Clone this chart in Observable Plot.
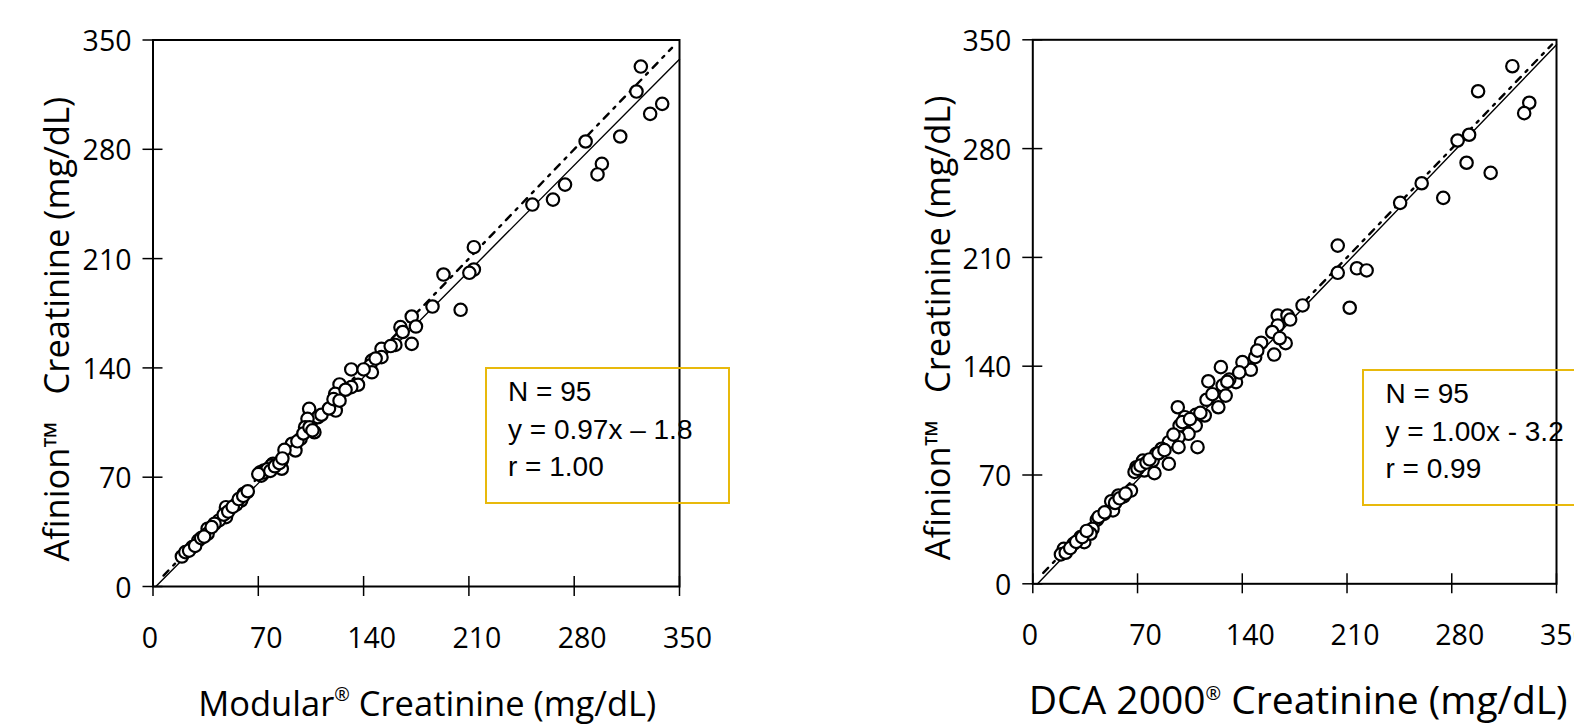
<!DOCTYPE html>
<html>
<head>
<meta charset="utf-8">
<script src="https://cdn.jsdelivr.net/npm/d3@7"></script>
<script src="https://cdn.jsdelivr.net/npm/@observablehq/plot@0.6"></script>
<style>
  html, body { margin: 0; padding: 0; background: #fff; overflow: hidden; }
  #wrap { position: relative; width: 1574px; height: 727px; overflow: hidden; background: #fff; }
  .panel { position: absolute; top: 0; }
  .box { position: absolute; box-sizing: border-box; border: 2.5px solid #E8B90C;
         font-family: "Liberation Sans", Arial, sans-serif; font-size: 28px; line-height: 37.5px;
         color: #000; padding: 4px 0 0 21.5px; white-space: pre; }
</style>
</head>
<body>
<div id="wrap"></div>
<script>
// ---------- data ----------
const xTicks = [0, 70, 140, 210, 280, 350];
const yTicks = [0, 70, 140, 210, 280, 350];

const leftXTitle = "Modular® Creatinine (mg/dL)";
const rightXTitle = "DCA 2000® Creatinine (mg/dL)";
const yTitle = "Afinion™\u00a0\u00a0\u00a0Creatinine (mg/dL)";

const leftStats = ["N = 95", "y = 0.97x \u2013 1.8", "r = 1.00"];
const rightStats = ["N = 95", "y = 1.00x - 3.2", "r = 0.99"];

// regression: slope, intercept ; identity line drawn as dash-dot
const leftFit = {slope: 0.97, intercept: -1.8, x0: 1.9, x1: 350};
const rightFit = {slope: 1.00, intercept: -3.2, x0: 3.2, x1: 350};
const leftIdentity = [[7, 7], [345, 345]];
const rightIdentity = [[7, 7], [347, 347]];

// Modular (x) vs Afinion (y)
const leftPoints = [
  [324.3,333.0],[321.4,317.0],[338.5,309.1],[330.5,302.7],[310.6,288.2],[287.6,285.0],[298.4,270.7],[295.5,263.9],
  [273.9,257.4],[265.9,247.8],[252.2,244.6],[213.3,217.3],[213.3,203.0],[210.3,200.9],[193.1,199.8],[204.5,177.2],
  [185.8,179.3],[172.0,172.9],[174.8,166.5],[164.5,166.1],[172.0,155.4],[161.1,154.7],[151.9,152.2],[151.9,146.9],
  [145.5,144.7],[144.4,141.5],[145.5,137.2],[131.8,139.0],[136.3,129.2],[131.8,127.7],[124.0,129.4],[121.1,123.4],
  [121.7,118.0],[121.5,112.7],[103.8,113.8],[109.6,108.4],[102.7,107.4],[101.1,102.0],[107.3,98.8],[98.1,94.6],
  [92.4,91.4],[94.7,87.1],[87.4,87.5],[85.6,80.7],[79.8,78.6],[73.7,74.3],[71.3,73.2],[85.6,75.4],[78.7,77.5],
  [60.4,59.4],[62.6,60.4],[58.6,55.1],[55.3,52.5],[48.5,50.8],[48.5,44.4],[43.9,42.3],[40.9,40.2],[36.3,37.0],
  [36.3,33.8],[30.2,29.5],[26.1,25.2],[19.2,19.2],[21.5,22.0],
  [72,71],[74,73],[76,75],[78,74],[81,77],[84,79],[86,82],[70,72],
  [47,46],[50,48],[53,51],[57,56],[60,58],[63,61],
  [24,23],[28,26],[32,31],[34,32],[39,38],
  [96,93],[100,98],[104,102],[106,100],
  [112,110],[117,114],[120,120],[124,119],[128,126],
  [140,139],[148,146],[158,154],[166,163]
];

// DCA 2000 (x) vs Afinion (y)
const rightPoints = [
  [320.5,333.0],[297.6,316.9],[331.8,309.5],[328.4,302.8],[291.6,288.9],[283.9,285.2],[289.9,270.9],[306.0,264.4],
  [259.9,257.7],[274.3,248.3],[245.5,245.1],[203.8,217.6],[203.8,200.1],[216.6,203.0],[223.1,201.6],[211.8,177.6],
  [180.3,179.1],[163.7,172.6],[170.2,172.6],[163.7,166.2],[169.0,154.8],[161.3,147.5],[152.6,155.1],[148.6,145.8],
  [145.7,137.7],[140.1,142.6],[125.7,139.4],[135.8,129.7],[131.3,131.4],[126.9,127.6],[117.3,130.3],[128.9,121.1],
  [124.0,113.6],[116.1,118.4],[96.9,113.6],[108.9,108.7],[101.7,107.2],[114.9,108.3],[98.1,101.8],[108.9,101.8],
  [104.1,96.5],[97.4,94.3],[110.1,87.9],[90.9,91.1],[97.4,87.9],[86.1,86.9],[82.5,83.6],[90.9,77.2],[80.1,79.3],
  [73.6,79.3],[69.2,75.0],[74.5,72.9],[81.3,71.2],[65.6,60.0],[60.8,56.2],[57.2,56.8],[52.4,53.1],[53.6,47.2],
  [47.6,45.0],[42.8,41.2],[39.9,35.4],[31.9,30.0],[27.2,25.7],[20.7,22.5],[18.8,18.9],[34.4,26.8],[38.5,32.2],
  [68,72],[70,74],[72,76],[76,78],[78,80],[84,84],[88,86],
  [44,43],[48,46],[55,52],[58,55],[62,58],
  [22,20],[25,23],[29,27],[33,30],[36,34],
  [100,104],[105,106],[112,110],[94,96],
  [120,122],[130,130],[138,136],[150,150],[160,162],[165,158],[172,170]
];

// ---------- drawing ----------
const AXIS_FONT = '"Open Sans", "Liberation Sans", Arial, sans-serif';

function makePanel(cfg) {
  const fw = cfg.width - cfg.ml - cfg.mr;
  const fh = cfg.height - cfg.mt - cfg.mb;
  const fitLine = [cfg.fit.x0, cfg.fit.x1].map(x => ({x, y: cfg.fit.slope * x + cfg.fit.intercept}));
  const idLine = cfg.identity.map(([x, y]) => ({x, y}));
  return Plot.plot({
    width: cfg.width,
    height: cfg.height,
    marginLeft: cfg.ml, marginRight: cfg.mr, marginTop: cfg.mt, marginBottom: cfg.mb,
    x: {domain: [0, 350], label: null},
    y: {domain: [0, 350], label: null},
    style: {fontFamily: AXIS_FONT, fontSize: "28.5px", color: "#000", background: "transparent", overflow: "visible"},
    marks: [
      Plot.line(idLine, {x: "x", y: "y", stroke: "#000", strokeWidth: 2.4, strokeDasharray: "7,7,2.5,7"}),
      Plot.line(fitLine, {x: "x", y: "y", stroke: "#000", strokeWidth: 1.4}),
      Plot.dot(cfg.points, {x: d => d[0], y: d => d[1], r: 6.2, stroke: "#000", strokeWidth: 2.2, fill: "#fff"}),
      Plot.frame({stroke: "#000", strokeWidth: 2}),
      Plot.tickX(xTicks, {x: d => d, insetTop: fh - 10, insetBottom: -10, stroke: "#000", strokeWidth: 1.5}),
      Plot.tickY(yTicks, {y: d => d, insetLeft: -10, insetRight: fw - 10, stroke: "#000", strokeWidth: 1.5}),
      Plot.axisX(xTicks.slice(0, 1), {tickSize: 0, tickPadding: 41, dx: -3, label: null, fontSize: 28.5}),
      Plot.axisX(xTicks.slice(1), {tickSize: 0, tickPadding: 41, dx: 8, label: null, fontSize: 28.5}),
      Plot.axisY(yTicks, {tickSize: 0, tickPadding: 21.5, dy: 2, label: null, fontSize: 28.5}),
      Plot.text([cfg.xTitle], {text: d => d, frameAnchor: "bottom", dy: 118, dx: cfg.xTitleDx, lineAnchor: "middle", fontSize: cfg.xTitleSize}),
      Plot.text([yTitle], {text: d => d, frameAnchor: "left", rotate: -90, dx: cfg.yTitleDx, dy: cfg.yTitleDy, lineAnchor: "middle", textAnchor: "middle", fontSize: 34.5})
    ]
  });
}

function superscriptReg(svg) {
  d3.select(svg).selectAll("text").each(function () {
    const t = d3.select(this);
    if (this.childElementCount > 0) return;
    const s = this.textContent;
    const i = s.indexOf("®");
    if (i < 0) return;
    const fs = parseFloat(t.attr("font-size")) || 34;
    t.text(null);
    t.append("tspan").text(s.slice(0, i));
    t.append("tspan").attr("font-size", fs * 0.55).attr("dy", -fs * 0.42).text("®");
    t.append("tspan").attr("dy", fs * 0.42).text(s.slice(i + 1));
  });
}

const wrap = document.getElementById("wrap");

const panels = [
  {left: 0, width: 787, height: 727, ml: 152.5, mr: 108, mt: 39.5, mb: 141,
   points: leftPoints, fit: leftFit, identity: leftIdentity, xTitle: leftXTitle, xTitleDx: 11, xTitleSize: 34.5,
   yTitleDx: -95.5, yTitleDy: 16, stats: leftStats, box: {left: 484.5, top: 367, width: 245, height: 137}},
  {left: 787, width: 787, height: 727, ml: 245.3, mr: 18, mt: 39.3, mb: 143.7,
   points: rightPoints, fit: rightFit, identity: rightIdentity, xTitle: rightXTitle, xTitleDx: 3.5, xTitleSize: 39,
   yTitleDx: -93.5, yTitleDy: 16, stats: rightStats, box: {left: 1362, top: 369, width: 260, height: 137}}
];

for (const cfg of panels) {
  const svg = makePanel(cfg);
  svg.classList.add("panel");
  svg.style.left = cfg.left + "px";
  superscriptReg(svg);
  wrap.appendChild(svg);

  const box = document.createElement("div");
  box.className = "box";
  box.style.left = cfg.box.left + "px";
  box.style.top = cfg.box.top + "px";
  box.style.width = cfg.box.width + "px";
  box.style.height = cfg.box.height + "px";
  for (const line of cfg.stats) {
    const row = document.createElement("div");
    row.textContent = line;
    box.appendChild(row);
  }
  wrap.appendChild(box);
}
</script>
</body>
</html>
